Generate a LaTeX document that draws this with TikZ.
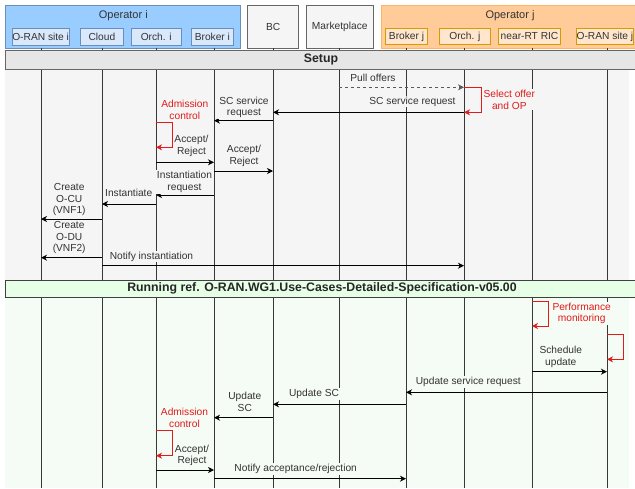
\documentclass[tikz,border=0pt]{standalone}
\usepackage{fontspec}
\setmainfont{Liberation Sans}
\usetikzlibrary{arrows.meta}
\definecolor{txt}{HTML}{333333}
\definecolor{myred}{HTML}{E01B1B}
\definecolor{opifill}{HTML}{99CCFF}
\definecolor{opidraw}{HTML}{6C8EBF}
\definecolor{inifill}{HTML}{DAE8FC}
\definecolor{opjfill}{HTML}{FFCC99}
\definecolor{opjdraw}{HTML}{FFB366}
\definecolor{injfill}{HTML}{FFE6CC}
\definecolor{injdraw}{HTML}{D79B00}
\definecolor{grayfill}{HTML}{F5F5F5}
\definecolor{graydraw}{HTML}{666666}
\definecolor{bgs}{HTML}{F5F5F5}
\definecolor{bgr}{HTML}{F5FBF5}
\definecolor{setupbar}{HTML}{E6E6E6}
\definecolor{runbar}{HTML}{E6FFE6}
\tikzset{
  hbox/.style={draw, line width=0.8pt, inner sep=0pt, anchor=north west, text=txt},
  outi/.style={hbox, fill=opifill, draw=opidraw},
  inni/.style={hbox, fill=inifill, draw=opidraw, font=\fontsize{10}{12}\selectfont},
  outj/.style={hbox, fill=opjfill, draw=opjdraw},
  innj/.style={hbox, fill=injfill, draw=injdraw, font=\fontsize{10}{12}\selectfont},
  actor/.style={hbox, fill=grayfill, draw=graydraw, font=\fontsize{10}{12}\selectfont},
  life/.style={draw=black!78, line width=0.85pt},
  tip/.style={-{Stealth[length=6pt,width=6pt,inset=1.8pt]}},
  msg/.style={draw=black, line width=0.9pt, tip},
  dmsg/.style={draw=black!65, line width=0.8pt, dash pattern=on 3pt off 3pt, tip},
  selfl/.style={draw=myred, line width=0.9pt, tip},
  lbl/.style={font=\fontsize{10.2}{11.7}\selectfont, text=txt, align=center, inner xsep=1.5pt, inner ysep=1pt},
  slbl/.style={lbl, fill=bgs},
  rlbl/.style={lbl, fill=bgr},
  redtxt/.style={text=myred},
  barlbl/.style={font=\fontsize{12.3}{14}\selectfont\bfseries, text=black!85}
}
\begin{document}
\begin{tikzpicture}[x=1pt,y=-1pt]
\useasboundingbox (0,0) rectangle (635,488);
\fill[white] (0,0) rectangle (635,488);
% section backgrounds
\fill[bgs] (5,69) rectangle (629,280);
\fill[bgr] (5,297) rectangle (629,488);
% headers
\node[outi, minimum width=235pt, minimum height=42.7pt] (opi) at (5,5) {};
\node[font=\fontsize{11}{13}\selectfont, text=txt] (opit) at (123.3,15.5) {Operator i};
\node[inni, minimum width=57.5pt, minimum height=16.5pt] (sitei) at (11.5,28) {};
\node[font=\fontsize{10.2}{12}\selectfont, text=txt] at (sitei.center) {O-RAN site i};
\node[inni, minimum width=43pt, minimum height=16.5pt] (cloud) at (80,28) {};
\node[font=\fontsize{10.2}{12}\selectfont, text=txt] at (cloud.center) {Cloud};
\node[inni, minimum width=50.3pt, minimum height=16.5pt] (orchi) at (130.7,28) {};
\node[font=\fontsize{10.2}{12}\selectfont, text=txt] at (orchi.center) {Orch. i};
\node[inni, minimum width=42pt, minimum height=16.5pt] (brokeri) at (191,28) {};
\node[font=\fontsize{10.2}{12}\selectfont, text=txt] at (brokeri.center) {Broker i};
\node[actor, minimum width=51pt, minimum height=42.7pt] (bc) at (247.3,5) {};
\node[font=\fontsize{10.2}{12}\selectfont, text=txt] at (bc.center) {BC};
\node[actor, minimum width=66.7pt, minimum height=42.7pt] (mkt) at (306,5) {};
\node[font=\fontsize{10.2}{12}\selectfont, text=txt] at (mkt.center) {Marketplace};
\node[outj, minimum width=256pt, minimum height=42.7pt] (opj) at (381,5) {};
\node[font=\fontsize{11}{13}\selectfont, text=txt] (opjt) at (510,15.5) {Operator j};
\node[innj, minimum width=42.3pt, minimum height=16.6pt] (brokerj) at (385,27.7) {};
\node[font=\fontsize{10.2}{12}\selectfont, text=txt] at (brokerj.center) {Broker j};
\node[innj, minimum width=51pt, minimum height=16.6pt] (orchj) at (439,27.7) {};
\node[font=\fontsize{10.2}{12}\selectfont, text=txt] at (orchj.center) {Orch. j};
\node[innj, minimum width=61.7pt, minimum height=16.6pt] (nrt) at (498.3,27.7) {};
\node[font=\fontsize{10.2}{12}\selectfont, text=txt] at (nrt.center) {near-RT RIC};
\node[innj, minimum width=57pt, minimum height=16.6pt] (sitej) at (576,27.7) {};
\node[font=\fontsize{10.2}{12}\selectfont, text=txt] at (sitej.center) {O-RAN site j};
% lifelines
\coordinate (SI) at (41,47.7);
\coordinate (CL) at (102,47.7);
\coordinate (ORI) at (156,47.7);
\coordinate (BRI) at (214,47.7);
\coordinate (BCL) at (273,47.7);
\coordinate (MKL) at (339,47.7);
\coordinate (BRJ) at (406,47.7);
\coordinate (ORJ) at (464,47.7);
\coordinate (NRT) at (532,47.7);
\coordinate (SJ) at (607,47.7);
\foreach \c in {SI,CL,ORI,BRI,BCL,MKL,BRJ,ORJ,NRT,SJ}
  \draw[life] (\c) -- (\c |- 0,488);
% section bars
\node[draw=graydraw, fill=setupbar, line width=0.8pt, minimum width=632pt, minimum height=19pt, inner sep=0pt, anchor=north west] (setupbar) at (5,50) {};
\node[barlbl] (setupt) at (321,59.5) {Setup};
\node[draw=black!75, fill=runbar, line width=0.8pt, minimum width=632pt, minimum height=17pt, inner sep=0pt, anchor=north west] (runbar) at (5,280) {};
\node[barlbl] (runt) at (322,288.5) {Running ref. O-RAN.WG1.Use-Cases-Detailed-Specification-v05.00};
% ---------- Setup messages ----------
\draw[dmsg] (MKL |- 0,87.3) -- (ORJ |- 0,87.3);
\node[slbl] (l1) at (373,78.3) {Pull offers};
\draw[selfl] (ORJ |- 0,87.3) -- ++(17,0) -- ++(0,25) -- (ORJ |- 0,112.3);
\node[slbl, redtxt] (l2) at (509.3,99.7) {Select offer\\and OP};
\draw[msg] (ORJ |- 0,112.3) -- (BCL |- 0,112.3);
\node[slbl] (l3) at (412.5,101.7) {SC service request};
\draw[msg] (BCL |- 0,120.7) -- (BRI |- 0,120.7);
\node[slbl] (l4) at (244,107.5) {SC service\\request};
\draw[selfl] (ORI |- 0,122.3) -- ++(16.6,0) -- ++(0,25) -- (ORI |- 0,147.3);
\node[slbl, redtxt] (l5) at (184.8,109.8) {Admission\\control};
\draw[msg] (ORI |- 0,162.3) -- (BRI |- 0,162.3);
\node[slbl] (l6) at (191.5,146) {Accept/\\Reject};
\draw[msg] (BRI |- 0,171) -- (BCL |- 0,171);
\node[slbl] (l7) at (244,155.7) {Accept/\\Reject};
\draw[msg] (BRI |- 0,195) -- (ORI |- 0,195);
\node[slbl] (l8) at (184.5,182) {Instantiation\\request};
\draw[msg] (ORI |- 0,204) -- (CL |- 0,204);
\node[slbl] (l9) at (128.7,192.7) {Instantiate};
\draw[msg] (CL |- 0,219) -- (SI |- 0,219);
\node[slbl] (l10) at (69.2,199.5) {Create\\O-CU\\(VNF1)};
\draw[msg] (CL |- 0,257.7) -- (SI |- 0,257.7);
\node[slbl] (l11) at (69.2,237.6) {Create\\O-DU\\(VNF2)};
\draw[msg] (CL |- 0,265.7) -- (ORJ |- 0,265.7);
\node[slbl] (l12) at (151.5,256.7) {Notify instantiation};
% ---------- Running messages ----------
\draw[selfl] (NRT |- 0,301) -- ++(16.6,0) -- ++(0,25) -- (NRT |- 0,326);
\node[rlbl, redtxt] (l13) at (581.7,313.3) {Performance\\monitoring};
\draw[selfl] (SJ |- 0,334.3) -- ++(16.6,0) -- ++(0,25) -- (SJ |- 0,359.3);
\draw[msg] (NRT |- 0,371.7) -- (SJ |- 0,371.7);
\node[rlbl] (l15) at (560.8,356.7) {Schedule\\update};
\draw[msg] (SJ |- 0,392.3) -- (BRJ |- 0,392.3);
\node[rlbl] (l16) at (468.3,382) {Update service request};
\draw[msg] (BRJ |- 0,404.3) -- (BCL |- 0,404.3);
\node[rlbl] (l17) at (314,394) {Update SC};
\draw[msg] (BCL |- 0,417.7) -- (BRI |- 0,417.7);
\node[rlbl] (l18) at (244.8,401.5) {Update\\SC};
\draw[selfl] (ORI |- 0,430.7) -- ++(16.6,0) -- ++(0,25) -- (ORI |- 0,455.7);
\node[rlbl, redtxt] (l19) at (184.5,418) {Admission\\control};
\draw[msg] (ORI |- 0,470) -- (BRI |- 0,470);
\node[rlbl] (l20) at (192,455.5) {Accept/\\Reject};
\draw[msg] (BRI |- 0,478.7) -- (BRJ |- 0,478.7);
\node[rlbl] (l21) at (295.7,469) {Notify acceptance/rejection};
\end{tikzpicture}
\end{document}
